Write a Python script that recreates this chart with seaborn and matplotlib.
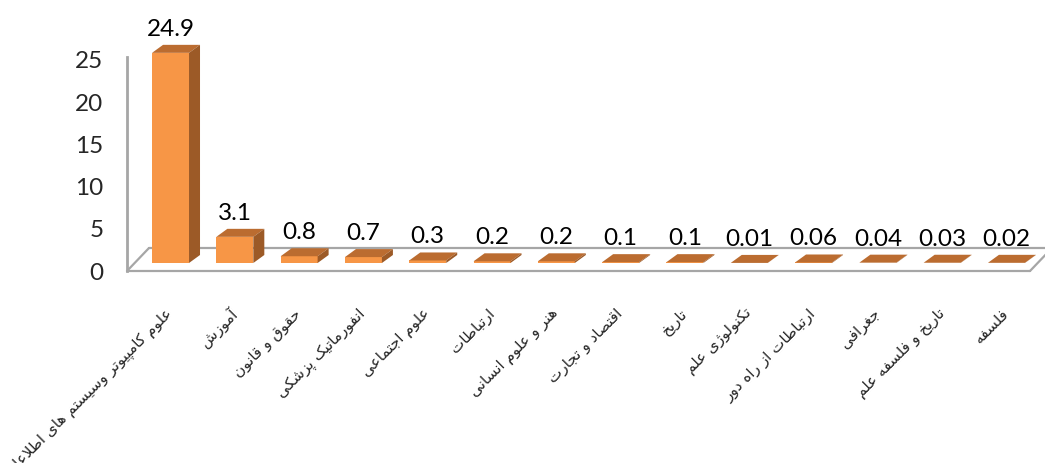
import matplotlib
matplotlib.use("Agg")
import matplotlib.pyplot as plt
import seaborn as sns
import pandas as pd
from matplotlib.patches import Polygon
from matplotlib.lines import Line2D

# ---------------- data ----------------
categories = [
    "علوم کامپیوتر وسیستم های اطلاعاتی",
    "آموزش",
    "حقوق و قانون",
    "انفورماتیک پزشکی",
    "علوم اجتماعی",
    "ارتباطات",
    "هنر و علوم انسانی",
    "اقتصاد و تجارت",
    "تاریخ",
    "تکنولوژی علم",
    "ارتباطات از راه دور",
    "جغرافی",
    "تاریخ و فلسفه علم",
    "فلسفه",
]
values = [24.9, 3.1, 0.8, 0.7, 0.3, 0.2, 0.2, 0.1, 0.1, 0.01, 0.06, 0.04, 0.03, 0.02]
value_labels = ["24.9", "3.1", "0.8", "0.7", "0.3", "0.2", "0.2", "0.1", "0.1",
                "0.01", "0.06", "0.04", "0.03", "0.02"]
y_ticks = [0, 5, 10, 15, 20, 25]

# ------------- Persian shaping (presentation forms, visual order) -------------
FORMS = {
    'ا': ('\uFE8D', '\uFE8E'), 'آ': ('\uFE81', '\uFE82'),
    'د': ('\uFEA9', '\uFEAA'), 'ذ': ('\uFEAB', '\uFEAC'),
    'ر': ('\uFEAD', '\uFEAE'), 'ز': ('\uFEAF', '\uFEB0'),
    'ژ': ('\uFB8A', '\uFB8B'), 'و': ('\uFEED', '\uFEEE'),
    'ب': ('\uFE8F', '\uFE90', '\uFE91', '\uFE92'),
    'پ': ('\uFB56', '\uFB57', '\uFB58', '\uFB59'),
    'ت': ('\uFE95', '\uFE96', '\uFE97', '\uFE98'),
    'ث': ('\uFE99', '\uFE9A', '\uFE9B', '\uFE9C'),
    'ج': ('\uFE9D', '\uFE9E', '\uFE9F', '\uFEA0'),
    'چ': ('\uFB7A', '\uFB7B', '\uFB7C', '\uFB7D'),
    'ح': ('\uFEA1', '\uFEA2', '\uFEA3', '\uFEA4'),
    'خ': ('\uFEA5', '\uFEA6', '\uFEA7', '\uFEA8'),
    'س': ('\uFEB1', '\uFEB2', '\uFEB3', '\uFEB4'),
    'ش': ('\uFEB5', '\uFEB6', '\uFEB7', '\uFEB8'),
    'ص': ('\uFEB9', '\uFEBA', '\uFEBB', '\uFEBC'),
    'ط': ('\uFEC1', '\uFEC2', '\uFEC3', '\uFEC4'),
    'ع': ('\uFEC9', '\uFECA', '\uFECB', '\uFECC'),
    'غ': ('\uFECD', '\uFECE', '\uFECF', '\uFED0'),
    'ف': ('\uFED1', '\uFED2', '\uFED3', '\uFED4'),
    'ق': ('\uFED5', '\uFED6', '\uFED7', '\uFED8'),
    'ک': ('\uFB8E', '\uFB8F', '\uFB90', '\uFB91'),
    'گ': ('\uFB92', '\uFB93', '\uFB94', '\uFB95'),
    'ل': ('\uFEDD', '\uFEDE', '\uFEDF', '\uFEE0'),
    'م': ('\uFEE1', '\uFEE2', '\uFEE3', '\uFEE4'),
    'ن': ('\uFEE5', '\uFEE6', '\uFEE7', '\uFEE8'),
    'ه': ('\uFEE9', '\uFEEA', '\uFEEB', '\uFEEC'),
    'ی': ('\uFBFC', '\uFBFD', '\uFBFE', '\uFBFF'),
}
LAM_ALEF = {'ا': ('\uFEFB', '\uFEFC'), 'آ': ('\uFEF5', '\uFEF6')}


def _dual(c):
    return c in FORMS and len(FORMS[c]) == 4


def shape(text):
    chars = list(text)
    n = len(chars)
    out = []
    i = 0
    while i < n:
        c = chars[i]
        if c not in FORMS:
            out.append(c)
            i += 1
            continue
        pj = i > 0 and _dual(chars[i - 1])
        if c == 'ل' and i + 1 < n and chars[i + 1] in LAM_ALEF:
            out.append(LAM_ALEF[chars[i + 1]][1 if pj else 0])
            i += 2
            continue
        nj = _dual(c) and i + 1 < n and chars[i + 1] in FORMS
        f = FORMS[c]
        if pj and nj:
            g = f[3]
        elif pj:
            g = f[1]
        elif nj:
            g = f[2]
        else:
            g = f[0]
        out.append(g)
        i += 1
    return ''.join(reversed(out))


# ---------------- figure ----------------
sns.set_style("white")
W, H, DPI = 1045, 463, 100
fig = plt.figure(figsize=(W / DPI, H / DPI), dpi=DPI)
AX_L, AX_R, AX_B, AX_T = 127, 1030, 271, 57
ax_w_px, ax_h_px = AX_R - AX_L, AX_B - AX_T
ax = fig.add_axes([AX_L / W, (H - AX_B) / H, ax_w_px / W, ax_h_px / H])

FRONT = "#F79646"
TOP = "#BB6C30"
SIDE = "#9C5A27"

df = pd.DataFrame({"category": categories, "value": values})
sns.barplot(data=df, x="category", y="value", color=FRONT, saturation=1,
            width=0.575, edgecolor="none", linewidth=0, ax=ax, zorder=3)

XMIN = -0.677
XMAX = XMIN + ax_w_px / 64.3
YMAX = ax_h_px / 8.44
ax.set_xlim(XMIN, XMAX)
ax.set_ylim(0, YMAX)

ppx = ax_w_px / (XMAX - XMIN)
ppy = ax_h_px / YMAX
base = 8 / ppy
ddx = 11 / ppx
ddy = 8 / ppy

for rect, lab in zip(list(ax.patches), value_labels):
    x0, w, h = rect.get_x(), rect.get_width(), rect.get_height()
    rect.set_y(base)
    rect.set_clip_on(False)
    yb, yt = base, base + h
    x1 = x0 + w
    ax.add_patch(Polygon([(x0, yt), (x1, yt), (x1 + ddx, yt + ddy), (x0 + ddx, yt + ddy)],
                         closed=True, facecolor=TOP, edgecolor="none", zorder=3,
                         clip_on=False))
    ax.add_patch(Polygon([(x1, yb), (x1 + ddx, yb + ddy), (x1 + ddx, yt + ddy), (x1, yt)],
                         closed=True, facecolor=SIDE, edgecolor="none", zorder=3,
                         clip_on=False))
    ax.annotate(lab, (x0 + w / 2, yt + ddy), xytext=(0, 9), textcoords="offset pixels",
                ha="center", va="baseline", fontsize=17.5, family="Lato", color="black",
                zorder=4, annotation_clip=False)

# floor (3D base)
GREY = "#A6A6A6"
dxa, dya = 22 / ax_w_px, 23 / ax_h_px
floor = [((0, 1), (0, 0)), ((dxa, 1 + dxa), (dya, dya)),
         ((0, dxa), (0, dya)), ((1, 1 + dxa), (0, dya))]
for xs, ys in floor:
    ax.add_line(Line2D(xs, ys, transform=ax.transAxes, color=GREY, lw=1.6,
                       clip_on=False, zorder=1))

# axes styling
for s in ["top", "right", "bottom"]:
    ax.spines[s].set_visible(False)
ax.spines["left"].set_color(GREY)
ax.spines["left"].set_linewidth(2)
ax.set_xlabel("")
ax.set_ylabel("")
ax.set_yticks(y_ticks)
ax.set_yticklabels([str(t) for t in y_ticks], family="Lato", fontsize=17.5)
ax.tick_params(axis="y", length=0, pad=17)
ax.set_xticks(range(len(categories)))
ax.set_xticklabels([shape(c) for c in categories], rotation=45, ha="right",
                   va="center", rotation_mode="anchor", fontsize=11,
                   family="DejaVu Sans")
ax.tick_params(axis="x", length=0, pad=29)
ax.grid(False)

fig.savefig("out.png", dpi=DPI)
